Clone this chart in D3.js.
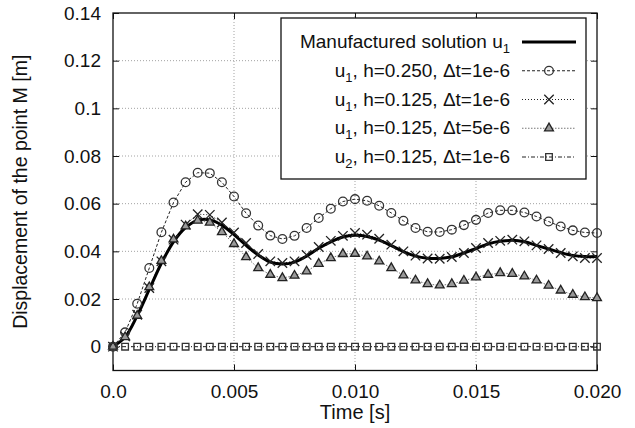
<!DOCTYPE html>
<html><head><meta charset="utf-8">
<script src="https://cdn.jsdelivr.net/npm/d3@7"></script>
<style>body{margin:0;background:#fff} text{font-family:"Liberation Sans",Arial,Helvetica,sans-serif;fill:#111}</style>
</head><body><svg id="c" width="635" height="428"></svg>
<script>
const time = [0,0.0005,0.001,0.0015,0.002,0.0025,0.003,0.0035,0.004,0.0045,0.005,0.0055,0.006,0.0065,0.007,0.0075,0.008,0.0085,0.009,0.0095,0.010,0.0105,0.011,0.0115,0.012,0.0125,0.013,0.0135,0.014,0.0145,0.015,0.0155,0.016,0.0165,0.017,0.0175,0.018,0.0185,0.019,0.0195,0.020];
const exact = [0,0.004,0.013,0.024,0.035,0.044,0.050,0.053,0.0532,0.051,0.047,0.0425,0.0385,0.0355,0.0347,0.0355,0.038,0.0413,0.044,0.046,0.0467,0.0462,0.0447,0.0424,0.0399,0.038,0.0371,0.037,0.0377,0.0393,0.0412,0.0431,0.0442,0.0446,0.044,0.0425,0.041,0.0395,0.0383,0.0378,0.0378];
const h250 = [0,0.006,0.018,0.033,0.048,0.0605,0.069,0.073,0.0728,0.069,0.063,0.056,0.0508,0.0466,0.0452,0.0465,0.0498,0.054,0.0579,0.0609,0.0619,0.0612,0.0591,0.0561,0.0528,0.0498,0.0482,0.0481,0.0491,0.051,0.0532,0.0561,0.0572,0.0572,0.0563,0.0546,0.0525,0.0504,0.0488,0.0479,0.0477];
const h125 = [0,0.0043,0.0134,0.0246,0.0358,0.0449,0.0512,0.0556,0.0553,0.0521,0.0479,0.0435,0.0389,0.0358,0.0351,0.0358,0.0385,0.0418,0.0444,0.0465,0.0477,0.047,0.0453,0.0428,0.04,0.0382,0.037,0.0369,0.0376,0.0393,0.0414,0.0435,0.0444,0.0449,0.0442,0.0425,0.041,0.0393,0.0379,0.0372,0.0372];
const h125dt5 = [0,0.004,0.013,0.025,0.036,0.045,0.0505,0.0529,0.0521,0.0481,0.0431,0.0376,0.033,0.0302,0.0288,0.0298,0.0316,0.0348,0.0372,0.0389,0.039,0.0379,0.0358,0.033,0.0299,0.0278,0.0263,0.0257,0.0263,0.0277,0.0291,0.0302,0.0309,0.0306,0.0295,0.0278,0.0256,0.0236,0.0218,0.0208,0.0204];
const u2 = [0,0,0,0,0,0,0,0,0,0,0,0,0,0,0,0,0,0,0,0,0,0,0,0,0,0,0,0,0,0,0,0,0,0,0,0,0,0,0,0,0];
const xTicks = [0,0.005,0.010,0.015,0.020];
const xTickLabels = ["0.0","0.005","0.010","0.015","0.020"];
const yTicks = [0,0.02,0.04,0.06,0.08,0.1,0.12,0.14];
const yTickLabels = ["0","0.02","0.04","0.06","0.08","0.1","0.12","0.14"];

const svg = d3.select("#c");
const L=113, R=597, T=13, B=370.5;
const x = d3.scaleLinear().domain([0,0.02]).range([L,R]);
const y = d3.scaleLinear().domain([-0.01,0.14]).range([B,T]);

// grid
const grid = svg.append("g").attr("stroke","#999").attr("stroke-width",0.9).attr("stroke-dasharray","1,2");
xTicks.slice(1,-1).forEach(t=>grid.append("line").attr("x1",x(t)).attr("x2",x(t)).attr("y1",T).attr("y2",B));
yTicks.slice(0,-1).forEach(t=>grid.append("line").attr("x1",L).attr("x2",R).attr("y1",y(t)).attr("y2",y(t)));

// axes
const fmtX = (d,i)=>xTickLabels[i], fmtY=(d,i)=>yTickLabels[i];
const ax = svg.append("g").attr("transform",`translate(0,${B})`).call(d3.axisBottom(x).tickValues(xTicks).tickFormat(fmtX).tickSizeInner(-6).tickSizeOuter(0).tickPadding(14));
const axT = svg.append("g").attr("transform",`translate(0,${T})`).call(d3.axisTop(x).tickValues(xTicks).tickFormat("").tickSizeInner(-6).tickSizeOuter(0));
const ay = svg.append("g").attr("transform",`translate(${L},0)`).call(d3.axisLeft(y).tickValues(yTicks).tickFormat(fmtY).tickSizeInner(-6).tickSizeOuter(0).tickPadding(12));
const ayR = svg.append("g").attr("transform",`translate(${R},0)`).call(d3.axisRight(y).tickValues(yTicks).tickFormat("").tickSizeInner(-6).tickSizeOuter(0));
[ax,axT,ay,ayR].forEach(g=>{g.select(".domain").remove(); g.selectAll("line").attr("stroke","#111"); g.selectAll("text").attr("font-size",19).attr("fill","#111").attr("font-family","Liberation Sans, Arial, sans-serif");});
svg.append("rect").attr("x",L).attr("y",T).attr("width",R-L).attr("height",B-T).attr("fill","none").attr("stroke","#111").attr("stroke-width",1.3);

// labels
svg.append("text").attr("x",x(0.01)).attr("y",419).attr("text-anchor","middle").attr("font-size",20).text("Time [s]");
svg.append("text").attr("transform",`translate(27,${(T+B)/2}) rotate(-90)`).attr("text-anchor","middle").attr("font-size",19.5).text("Displacement of the point M [m]");

// series
const series = [
  {name:"h250", vals:h250, dash:"3,2", stroke:"#222", sw:1, sym:d3.symbolCircle, size:60, fill:"none", mstroke:"#333", curve:d3.curveLinear},
  {name:"h125", vals:h125, dash:"1,2", stroke:"#222", sw:1, sym:d3.symbolTimes, size:60, fill:"none", mstroke:"#222", curve:d3.curveLinear},
  {name:"dt5", vals:h125dt5, dash:"1.5,1.5", stroke:"#777", sw:1, sym:d3.symbolTriangle, size:34, fill:"#999", mstroke:"#222", curve:d3.curveLinear},
  {name:"u2", vals:u2, dash:"4,2,1,2", stroke:"#222", sw:1, sym:d3.symbolSquare, size:44, fill:"none", mstroke:"#333", curve:d3.curveLinear}
];
const plot = svg.append("g");
series.forEach(s=>{
  const pts = time.map((t,i)=>[t,s.vals[i]]);
  plot.append("path").datum(pts).attr("fill","none").attr("stroke",s.stroke).attr("stroke-width",s.sw).attr("stroke-dasharray",s.dash)
    .attr("d",d3.line().x(d=>x(d[0])).y(d=>y(d[1])).curve(s.curve));
});
// exact solution
plot.append("path").datum(time.map((t,i)=>[t,exact[i]])).attr("fill","none").attr("stroke","#000").attr("stroke-width",3)
  .attr("d",d3.line().x(d=>x(d[0])).y(d=>y(d[1])).curve(d3.curveCatmullRom));
series.forEach(s=>{
  const pts = time.map((t,i)=>[t,s.vals[i]]);
  plot.append("g").selectAll("path").data(pts).join("path")
    .attr("transform",d=>`translate(${x(d[0])},${y(d[1])})`)
    .attr("d",d3.symbol().type(s.sym).size(s.size)).attr("fill",s.fill).attr("stroke",s.mstroke).attr("stroke-width",1.3);
});

// legend
const lg = svg.append("g");
lg.append("rect").attr("x",281).attr("y",18).attr("width",305).attr("height",161).attr("fill","#fff").attr("stroke","#111").attr("stroke-width",1.3);
const entries = [
  {pre:"Manufactured solution u", sub:"1", post:""},
  {pre:"u", sub:"1", post:", h=0.250, \u0394t=1e-6", s:series[0]},
  {pre:"u", sub:"1", post:", h=0.125, \u0394t=1e-6", s:series[1]},
  {pre:"u", sub:"1", post:", h=0.125, \u0394t=5e-6", s:series[2]},
  {pre:"u", sub:"2", post:", h=0.125, \u0394t=1e-6", s:series[3]}
];
entries.forEach((e,i)=>{
  const yy = 42 + i*28.75;
  const t = lg.append("text").attr("x",510).attr("y",yy+6).attr("text-anchor","end").attr("font-size",19);
  t.append("tspan").text(e.pre);
  t.append("tspan").attr("dy",5).attr("font-size",13).text(e.sub);
  if(e.post) t.append("tspan").attr("dy",-5).text(e.post);
  if(!e.s){
    lg.append("line").attr("x1",522).attr("x2",576).attr("y1",yy).attr("y2",yy).attr("stroke","#000").attr("stroke-width",3);
  } else {
    const s=e.s;
    lg.append("line").attr("x1",522).attr("x2",576).attr("y1",yy).attr("y2",yy).attr("stroke",s.stroke).attr("stroke-width",s.sw).attr("stroke-dasharray",s.dash);
    lg.append("path").attr("transform",`translate(549,${yy})`).attr("d",d3.symbol().type(s.sym).size(s.size)).attr("fill",s.fill).attr("stroke",s.mstroke).attr("stroke-width",1.3);
  }
});
</script></body></html>
